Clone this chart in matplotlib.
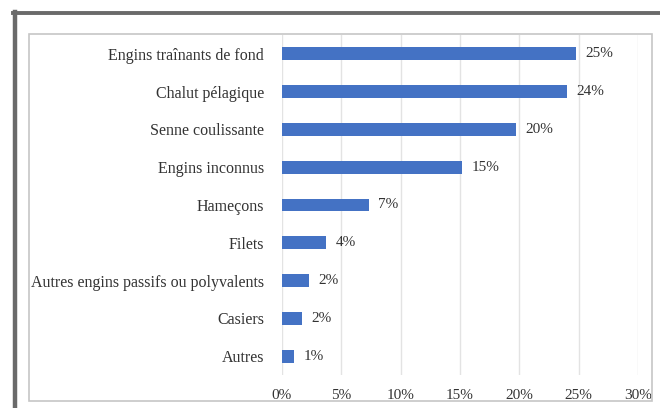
import matplotlib.pyplot as plt
from matplotlib.patches import Rectangle
from matplotlib.lines import Line2D
import numpy as np

plt.rcParams['font.family'] = ['Liberation Serif', 'DejaVu Serif']

engins = ["Engins traînants de fond", "Chalut pélagique", "Senne coulissante",
          "Engins inconnus", "Hameçons", "Filets",
          "Autres engins passifs ou polyvalents", "Casiers", "Autres"]
parts = [24.8, 24.0, 19.7, 15.2, 7.3, 3.7, 2.3, 1.7, 1.0]  # en %
ticks_x = [0, 5, 10, 15, 20, 25, 30]

W, H = 660, 408
fig = plt.figure(figsize=(W / 100, H / 100), dpi=100)

# cadre exterieur (haut + gauche) et cadre du graphique
fig.add_artist(Line2D([13 / W, 1], [1 - 12.5 / H, 1 - 12.5 / H], color='#6a6a6a', lw=2.8))
fig.add_artist(Line2D([15.5 / W, 15.5 / W], [0, 1 - 12 / H], color='#6a6a6a', lw=3.2))
fig.add_artist(Rectangle((29 / W, 1 - 401 / H), (652 - 29) / W, (401 - 34) / H,
                         fill=False, edgecolor='#c6c6c6', lw=1.2))

ax = fig.add_axes([282 / W, 1 - 375 / H, (638 - 282) / W, (375 - 35) / H])
y = np.arange(len(engins))
ax.barh(y, parts, height=0.34, color='#4472C4', zorder=3)
for yi, v in zip(y, parts):
    ax.text(v + 0.8, yi, f"{v:.0f}%", va='center', ha='left', fontsize=11, color='#333333')

ax.set_xlim(0, 30)
ax.set_ylim(len(engins) - 0.5, -0.5)
ax.set_yticks(y)
ax.set_yticklabels(engins, fontsize=11.5, color='#333333')
ax.set_xticks(ticks_x)
ax.set_xticklabels([f"{t}%" for t in ticks_x], fontsize=11, color='#333333')
ax.tick_params(axis='both', length=0)
ax.tick_params(axis='y', pad=13)
ax.tick_params(axis='x', pad=10)
ax.grid(axis='x', color='#e3e3e3', lw=1.0, zorder=0)
for s in ax.spines.values():
    s.set_visible(False)

fig.savefig('out.png', dpi=100)
